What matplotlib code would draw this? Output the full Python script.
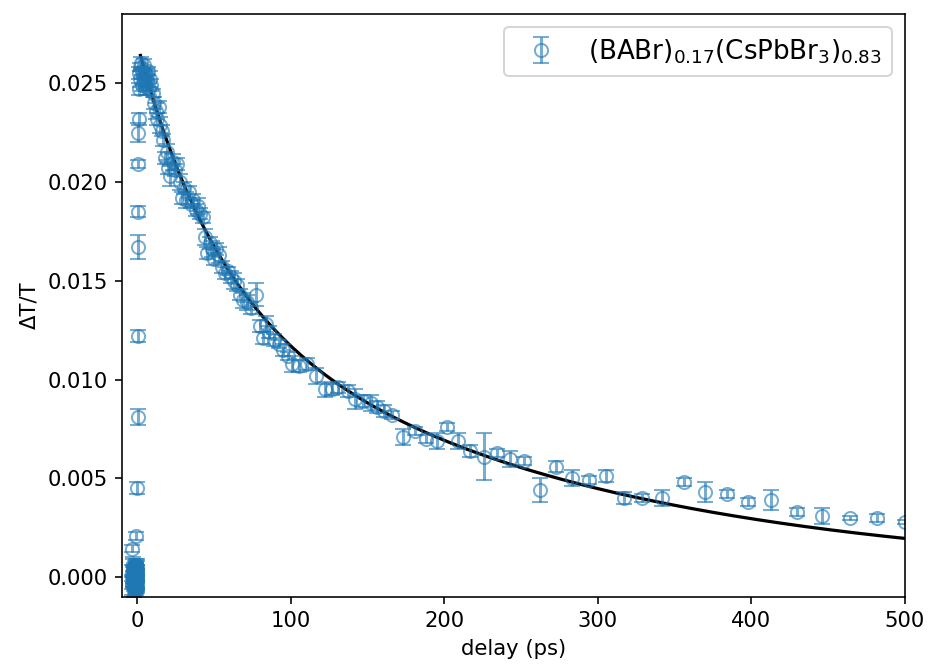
import numpy as np
import matplotlib
matplotlib.use("Agg")
import matplotlib.pyplot as plt

plt.rcParams['font.size'] = 10.5

# pump-probe data
delay = [-3.4, -3.2, -3.0, -2.8, -2.6, -2.4, -2.2, -2.0, -1.8, -1.6, -1.4, -1.2,
         -1.0, -0.9, -0.8, -0.7, -0.6, -0.5, -0.4, -0.3, -0.2, -0.1,
         -3.3, -3.1, -2.9, -2.7, -2.5, -2.3, -2.1, -1.9, -1.7, -1.5, -1.3, -1.1,
         -0.95, -0.85, -0.75, -0.65, -0.55, -0.45, -0.35, -0.25, -0.15, -0.05,
         -3.3, -0.6, 0.0, 0.1, 0.2, 0.3, 0.4, 0.5, 0.6, 0.8,
         1.0, 1.3, 1.6, 2.0, 2.4, 2.8, 3.2, 3.6, 4.0, 4.5, 5.0, 5.5, 6.0, 6.5,
         7.0, 7.5, 8.0, 9.0, 10.0, 11.0, 12.0, 13.0, 14.0, 15.0, 16.0, 17.0,
         18.0, 19.0, 20.0, 21.5, 23.0, 24.5, 26.0, 27.5, 29.0, 30.5, 32.0, 33.5,
         35.0, 36.5, 38.0, 39.5, 41.0, 42.5, 44.0, 45.5, 47.0, 48.5, 50.0, 51.5,
         53.0, 55.0, 57.0, 59.0, 61.0, 63.0, 65.0, 67.0, 69.0, 71.5, 74.0, 77.0,
         80.0, 82.0, 84.0, 86.0, 89.0, 92.0, 95.0, 98.0, 101.0, 105.0, 110.5,
         116.5, 122.0, 127.0, 131.0, 137.0, 142.0, 147.0, 152.0, 156.0, 161.0,
         166.0, 173.0, 181.0, 188.0, 195.0, 202.0, 209.0, 217.0, 226.0, 234.0,
         243.0, 252.0, 262.0, 273.0, 283.0, 294.0, 305.0, 317.0, 329.0, 342.0,
         356.0, 370.0, 384.0, 398.0, 413.0, 430.0, 446.0, 464.0, 482.0, 500.0]
dtt = [0.0002, -0.0003, 0.0005, -0.0001, 0.0003, -0.0005, 0.0001, 0.0004, -0.0002,
       0.0000, -0.0006, 0.0003, -0.0004, 0.0006, 0.0001, -0.0003, 0.0002, -0.0005,
       0.0004, -0.0001, 0.0003, -0.0002,
       -0.0004, 0.0001, -0.0002, 0.0004, -0.0006, 0.0002, -0.0003, 0.0000, 0.0005,
       -0.0004, 0.0001, -0.0001, 0.0003, -0.0005, 0.0000, 0.0004, -0.0002, 0.0002,
       -0.0006, 0.0001, -0.0003, 0.0005,
       0.00145, 0.0021, 0.0045, 0.0081, 0.0122, 0.0167, 0.0185, 0.0209, 0.0225, 0.0232,
       0.0247, 0.0255, 0.0258, 0.0252, 0.0260, 0.0249, 0.0256, 0.0253, 0.0259, 0.0250,
       0.0255, 0.0248, 0.0254, 0.0251, 0.0256, 0.0247, 0.0252, 0.0249, 0.0245, 0.0240,
       0.0236, 0.0232, 0.0238, 0.0229, 0.0226, 0.0221, 0.0212, 0.0215, 0.0207, 0.0203,
       0.0210, 0.0206, 0.0209, 0.0200, 0.0192, 0.0197, 0.0191, 0.0195, 0.0189, 0.0191,
       0.0186, 0.0188, 0.0184, 0.0182, 0.0172, 0.0164, 0.0169, 0.0166, 0.0161, 0.0166,
       0.0163, 0.0157, 0.0154, 0.0155, 0.0152, 0.0150, 0.0148, 0.0143, 0.0140, 0.0139,
       0.0136, 0.0143, 0.0127, 0.0121, 0.0128, 0.0124, 0.0120, 0.0118, 0.0115, 0.0112,
       0.0108, 0.0107, 0.0108, 0.0102, 0.0095, 0.0095, 0.0096, 0.0094, 0.0090, 0.0089,
       0.0088, 0.0086, 0.0084, 0.0082, 0.0071, 0.0074, 0.0070, 0.0069, 0.0076, 0.0069,
       0.0064, 0.0061, 0.0063, 0.0060, 0.0059, 0.0044, 0.0056, 0.0050, 0.0049, 0.0051,
       0.0040, 0.0040, 0.0040, 0.0048, 0.0043, 0.0042, 0.0038, 0.0039, 0.0033, 0.0031,
       0.0030, 0.0030, 0.0028]
err = [0.0004, 0.0003, 0.0005, 0.0004, 0.0003, 0.0005, 0.0004, 0.0003, 0.0004,
       0.0005, 0.0003, 0.0004, 0.0005, 0.0003, 0.0004, 0.0004, 0.0005, 0.0003,
       0.0004, 0.0005, 0.0003, 0.0004,
       0.0005, 0.0004, 0.0003, 0.0005, 0.0004, 0.0003, 0.0004, 0.0005, 0.0003,
       0.0004, 0.0005, 0.0003, 0.0004, 0.0003, 0.0005, 0.0004, 0.0003, 0.0004,
       0.0005, 0.0003, 0.0004, 0.0004,
       0.0002, 0.0002, 0.0003, 0.0004, 0.0003, 0.0006, 0.0003, 0.0002, 0.0005, 0.0003,
       0.0003, 0.0003, 0.0002, 0.0004, 0.0003, 0.0003, 0.0002, 0.0004, 0.0003, 0.0003,
       0.0002, 0.0004, 0.0003, 0.0003, 0.0002, 0.0003, 0.0004, 0.0003, 0.0002, 0.0003,
       0.0004, 0.0003, 0.0003, 0.0004, 0.0003, 0.0003, 0.0003, 0.0004, 0.0003, 0.0005,
       0.0004, 0.0003, 0.0003, 0.0004, 0.0003, 0.0003, 0.0004, 0.0003, 0.0002, 0.0003,
       0.0003, 0.0004, 0.0003, 0.0003, 0.0004, 0.0003, 0.0003, 0.0004, 0.0003, 0.0003,
       0.0004, 0.0003, 0.0003, 0.0002, 0.0003, 0.0004, 0.0003, 0.0003, 0.0004, 0.0004,
       0.0003, 0.0006, 0.0003, 0.0003, 0.0004, 0.0003, 0.0003, 0.0002, 0.0003, 0.0002,
       0.0004, 0.0003, 0.0003, 0.0004, 0.0004, 0.0003, 0.0003, 0.0003, 0.0005, 0.0003,
       0.0004, 0.0003, 0.0003, 0.0002, 0.0004, 0.0002, 0.0002, 0.0004, 0.0002, 0.0004,
       0.0003, 0.0012, 0.0002, 0.0004, 0.0002, 0.0006, 0.0003, 0.0004, 0.0002, 0.0003,
       0.0003, 0.0002, 0.0004, 0.0002, 0.0005, 0.0002, 0.0002, 0.0005, 0.0002, 0.0004,
       0.0001, 0.0002, 0.0001]

# biexponential fit parameters
t0 = 2.0
A1 = 0.0113
tau1 = 50.0
A2 = 0.0151
tau2 = 244.0

fig = plt.figure(figsize=(928/145, 664/145), dpi=145)
ax = fig.add_axes([0.1315, 0.101, 0.8435, 0.878])

t = np.linspace(t0, 500, 500)
fit = A1*np.exp(-(t - t0)/tau1) + A2*np.exp(-(t - t0)/tau2)
ax.plot(t, fit, 'k-', lw=1.6, zorder=1)

ax.errorbar(delay, dtt, yerr=err, fmt='o', mfc='none', ms=6.5, color='tab:blue',
            alpha=0.6, capsize=4, zorder=2,
            label=r'(BABr)$_{0.17}$(CsPbBr$_3$)$_{0.83}$')

ax.set_xlim(-10, 500)
ax.set_ylim(-0.001, 0.0285)
ax.set_xlabel('delay (ps)')
ax.set_ylabel('ΔT/T')
ax.legend(loc='upper right', fontsize=13)

fig.savefig('out.png', dpi=145)
